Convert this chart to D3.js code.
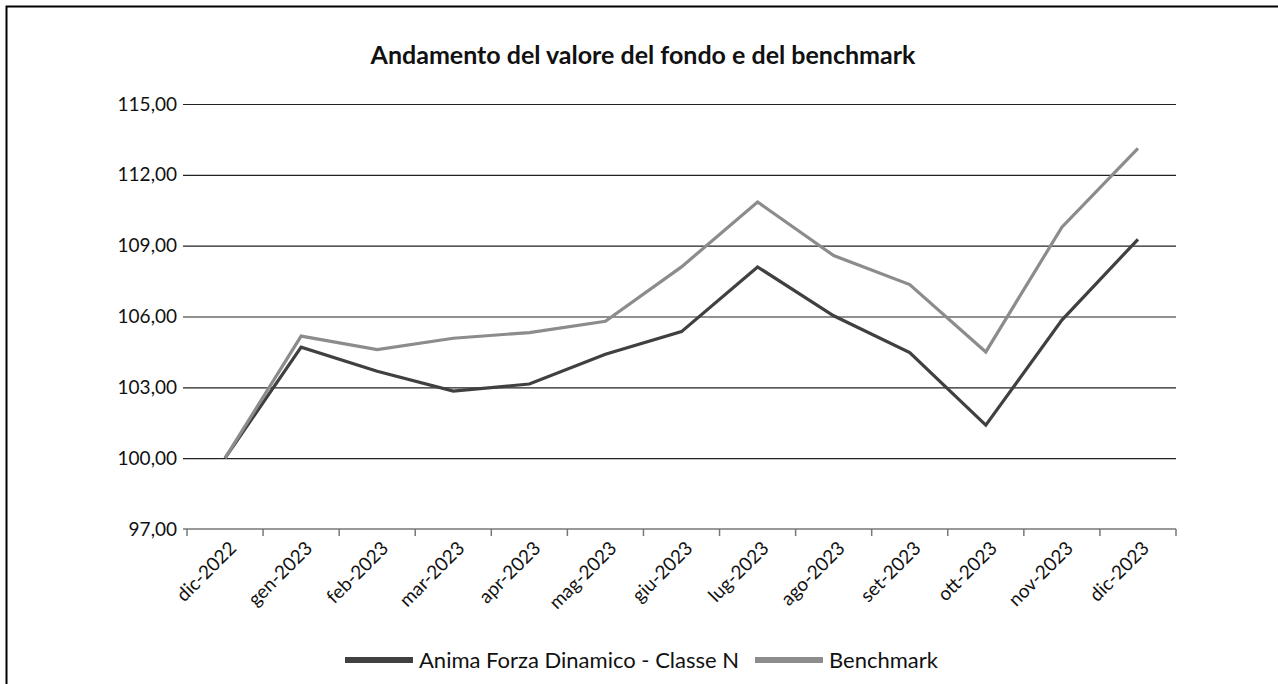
<!DOCTYPE html>
<html>
<head>
<meta charset="utf-8">
<script src="https://cdn.jsdelivr.net/npm/d3@7"></script>
<style>
  body { margin: 0; background: #fff; }
  text { font-family: Lato, "Open Sans", sans-serif; fill: #111; }
</style>
</head>
<body>
<script>
// chart data
var months = ["dic-2022", "gen-2023", "feb-2023", "mar-2023", "apr-2023", "mag-2023", "giu-2023",
              "lug-2023", "ago-2023", "set-2023", "ott-2023", "nov-2023", "dic-2023"];
var fondo = [100.00, 104.70, 103.68, 102.84, 103.14, 104.40, 105.36, 108.10, 106.03, 104.47, 101.40, 105.85, 109.27];
var benchmark = [100.00, 105.17, 104.60, 105.08, 105.32, 105.80, 108.10, 110.85, 108.58, 107.35, 104.50, 109.78, 113.12];
var yTicks = [97, 100, 103, 106, 109, 112, 115];
var seriesNames = ["Anima Forza Dinamico - Classe N", "Benchmark"];

var W = 1278, H = 684;
var mLeft = 187, mRight = 1176, mTop = 104, mBottom = 529;

var svg = d3.select("body")
    .append("svg")
    .attr("width", W)
    .attr("height", H);

// frame
svg.append("path")
    .attr("d", "M6.5," + H + "V6.5H" + W)
    .attr("fill", "none")
    .attr("stroke", "#000")
    .attr("stroke-width", 2);

svg.append("text")
    .attr("x", 643)
    .attr("y", 64)
    .attr("text-anchor", "middle")
    .style("font-size", "25px")
    .style("font-weight", "bold")
    .text("Andamento del valore del fondo e del benchmark");

var x = d3.scaleBand()
    .domain(months)
    .range([mLeft, mRight]);

var y = d3.scaleLinear()
    .domain([97, 115])
    .range([mBottom, mTop]);

// gridlines + y labels
var yAxis = svg.append("g")
    .attr("transform", "translate(" + mRight + ",0)")
    .call(d3.axisLeft(y).tickValues(yTicks).tickSize(mRight - mLeft + 4)
        .tickFormat(function(d) { return d3.format(".2f")(d).replace(".", ","); }));
yAxis.select(".domain").remove();
yAxis.selectAll(".tick line")
    .attr("stroke", "#222")
    .attr("stroke-width", 1.2)
    .filter(function(d) { return d === 97; }).remove();
yAxis.selectAll(".tick text")
    .attr("x", -(mRight - mLeft + 10))
    .attr("fill", "#111")
    .style("font-size", "19px")
    .style("font-family", "Lato, sans-serif");

// x axis
var ticksX = months.map(function(m) { return x(m); }).concat([mRight]);
var xg = svg.append("g");
xg.append("line")
    .attr("x1", mLeft - 4).attr("x2", mRight)
    .attr("y1", mBottom).attr("y2", mBottom)
    .attr("stroke", "#777").attr("stroke-width", 1.5);
xg.selectAll("line.tk")
    .data(ticksX)
    .enter().append("line")
    .attr("class", "tk")
    .attr("x1", function(d) { return d; }).attr("x2", function(d) { return d; })
    .attr("y1", mBottom).attr("y2", mBottom + 7)
    .attr("stroke", "#777").attr("stroke-width", 1.5);
xg.selectAll("text")
    .data(months)
    .enter().append("text")
    .attr("transform", function(d) {
        return "translate(" + (x(d) + x.bandwidth() / 2 + 3) + "," + (mBottom + 11) + ") rotate(-45)";
    })
    .attr("text-anchor", "end")
    .attr("dy", "0.7em")
    .style("font-size", "19px")
    .text(function(d) { return d; });

// lines
var line = d3.line()
    .x(function(d, i) { return x(months[i]) + x.bandwidth() / 2; })
    .y(function(d) { return y(d); });

var colors = ["#404040", "#8c8c8c"];
[fondo, benchmark].forEach(function(s, i) {
    svg.append("path")
        .datum(s)
        .attr("fill", "none")
        .attr("stroke", colors[i])
        .attr("stroke-width", 3.2)
        .attr("stroke-linejoin", "miter")
        .attr("d", line);
});

// legend
var legendX = [345, 755];
seriesNames.forEach(function(n, i) {
    svg.append("rect")
        .attr("x", legendX[i]).attr("y", 657)
        .attr("width", 68).attr("height", 6)
        .attr("fill", colors[i]);
    svg.append("text")
        .attr("x", legendX[i] + 74)
        .attr("y", 660)
        .attr("dy", "0.35em")
        .style("font-size", "22px")
        .text(n);
});
</script>
</body>
</html>
